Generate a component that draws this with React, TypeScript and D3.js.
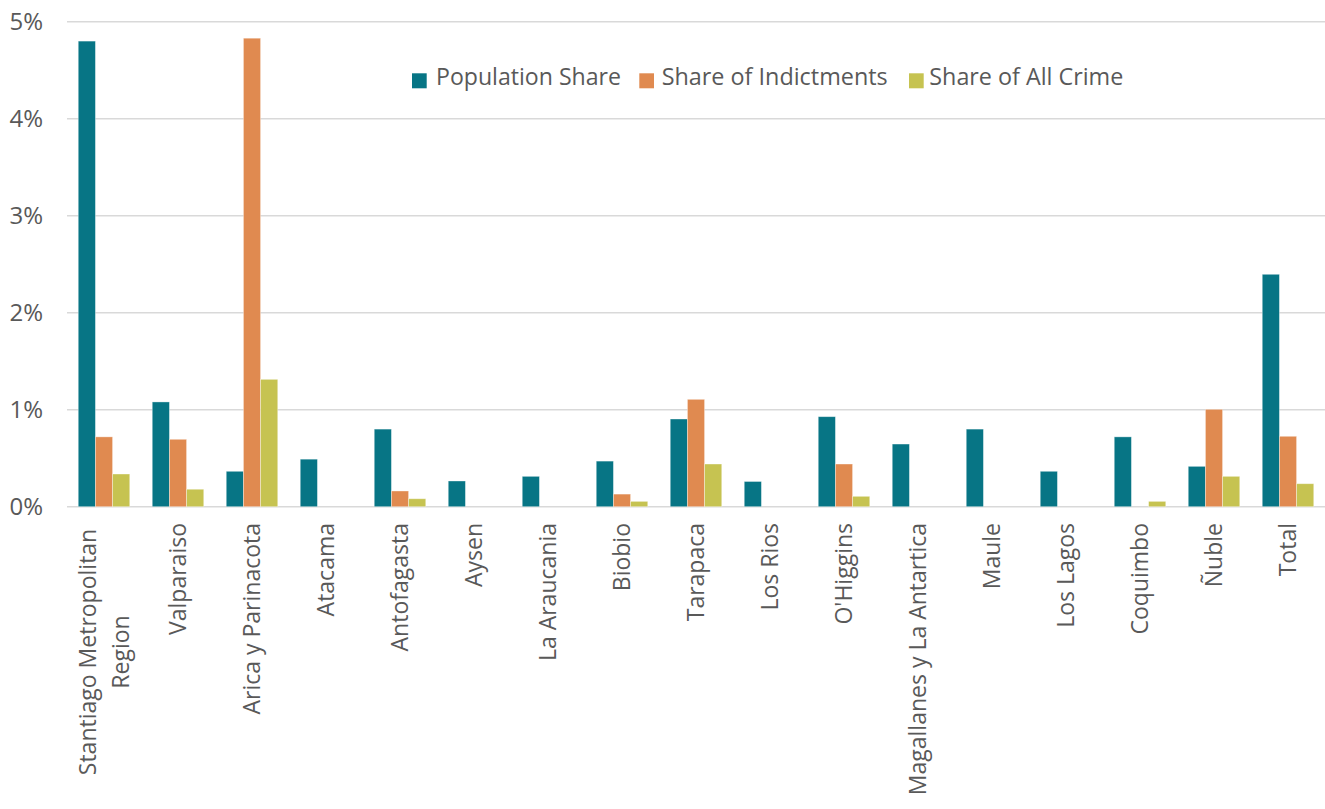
import React from "react";
import * as d3 from "d3";

const categories = [
  ["Stantiago Metropolitan", "Region"],
  ["Valparaiso"],
  ["Arica y Parinacota"],
  ["Atacama"],
  ["Antofagasta"],
  ["Aysen"],
  ["La Araucania"],
  ["Biobio"],
  ["Tarapaca"],
  ["Los Rios"],
  ["O'Higgins"],
  ["Magallanes y La Antartica"],
  ["Maule"],
  ["Los Lagos"],
  ["Coquimbo"],
  ["Ñuble"],
  ["Total"],
];

const seriesNames = ["Population Share", "Share of Indictments", "Share of All Crime"];
const seriesColors = ["#077585", "#E08A50", "#C6C351"];

const populationShare = [4.8, 1.08, 0.365, 0.49, 0.8, 0.265, 0.313, 0.47, 0.904, 0.26, 0.928, 0.646, 0.8, 0.365, 0.72, 0.416, 2.396];
const shareOfIndictments = [0.72, 0.695, 4.83, 0, 0.162, 0, 0, 0.13, 1.107, 0, 0.44, 0, 0, 0, 0, 1.004, 0.726];
const shareOfAllCrime = [0.337, 0.18, 1.313, 0, 0.082, 0, 0, 0.055, 0.44, 0, 0.107, 0, 0, 0, 0.055, 0.313, 0.237];

const yTicks = [0, 1, 2, 3, 4, 5];

const W = 1325;
const H = 809;
const M = { left: 67, right: 0, top: 21.7, bottom: 302.3 };

export default function App() {
  const labels = categories.map((c) => c.join(" "));
  const seriesData = [populationShare, shareOfIndictments, shareOfAllCrime];

  const x0 = d3.scaleBand<string>().domain(labels).range([M.left, W - M.right]).padding(0);
  const bw = x0.bandwidth();
  const gap = bw * 0.152;
  const x1 = d3.scaleBand<number>().domain([0, 1, 2]).range([gap, bw - gap]).padding(0);
  const y = d3.scaleLinear().domain([0, 5]).range([H - M.bottom, M.top]);

  const font = "'Open Sans', 'DejaVu Sans', sans-serif";
  const textColor = "#595959";

  const legendItems = [
    { sx: 412, tx: 436, w: 185 },
    { sx: 639.3, tx: 661.7, w: 226 },
    { sx: 909, tx: 929.3, w: 194 },
  ];

  return (
    <svg width={W} height={H} style={{ position: "absolute", left: 0, top: 0, background: "#fff" }}>
      {yTicks.map((t) => (
        <g key={t}>
          <line x1={M.left} x2={W - M.right} y1={y(t)} y2={y(t)} stroke="#d9d9d9" strokeWidth={1.5} />
          <text x={43} y={y(t)} dy="0.36em" textAnchor="end" fontFamily={font} fontSize={24} fill={textColor}>
            {t + "%"}
          </text>
        </g>
      ))}
      {labels.map((lab, i) =>
        seriesData.map((vals, s) => {
          const v = vals[i];
          if (!v) return null;
          const bx = (x0(lab) as number) + (x1(s) as number);
          return (
            <rect
              key={lab + s}
              x={bx}
              y={y(v)}
              width={x1.bandwidth()}
              height={y(0) - y(v)}
              fill={seriesColors[s]}
              stroke="#ffffff"
              strokeOpacity={0.45}
              strokeWidth={0.8}
            />
          );
        })
      )}
      {categories.map((lines, i) => {
        const cx = (x0(labels[i]) as number) + bw / 2;
        if (lines.length === 1) {
          return (
            <text
              key={i}
              transform={`translate(${cx},523) rotate(-90)`}
              textAnchor="end"
              dy="0.35em"
              fontFamily={font}
              fontSize={23}
              fill={textColor}
            >
              {lines[0]}
            </text>
          );
        }
        const lh = 33;
        return lines.map((ln, k) => (
          <text
            key={i + "-" + k}
            transform={`translate(${cx + (k - (lines.length - 1) / 2) * lh},652) rotate(-90)`}
            textAnchor="middle"
            dy="0.35em"
            fontFamily={font}
            fontSize={23}
            fill={textColor}
          >
            {ln}
          </text>
        ));
      })}
      {seriesNames.map((name, s) => (
        <g key={name}>
          <rect x={legendItems[s].sx} y={73.3} width={14.7} height={15} fill={seriesColors[s]} />
          <text
            x={legendItems[s].tx}
            y={85}
            fontFamily={font}
            fontSize={24}
            fill={textColor}
            textLength={legendItems[s].w}
            lengthAdjust="spacingAndGlyphs"
          >
            {name}
          </text>
        </g>
      ))}
    </svg>
  );
}
